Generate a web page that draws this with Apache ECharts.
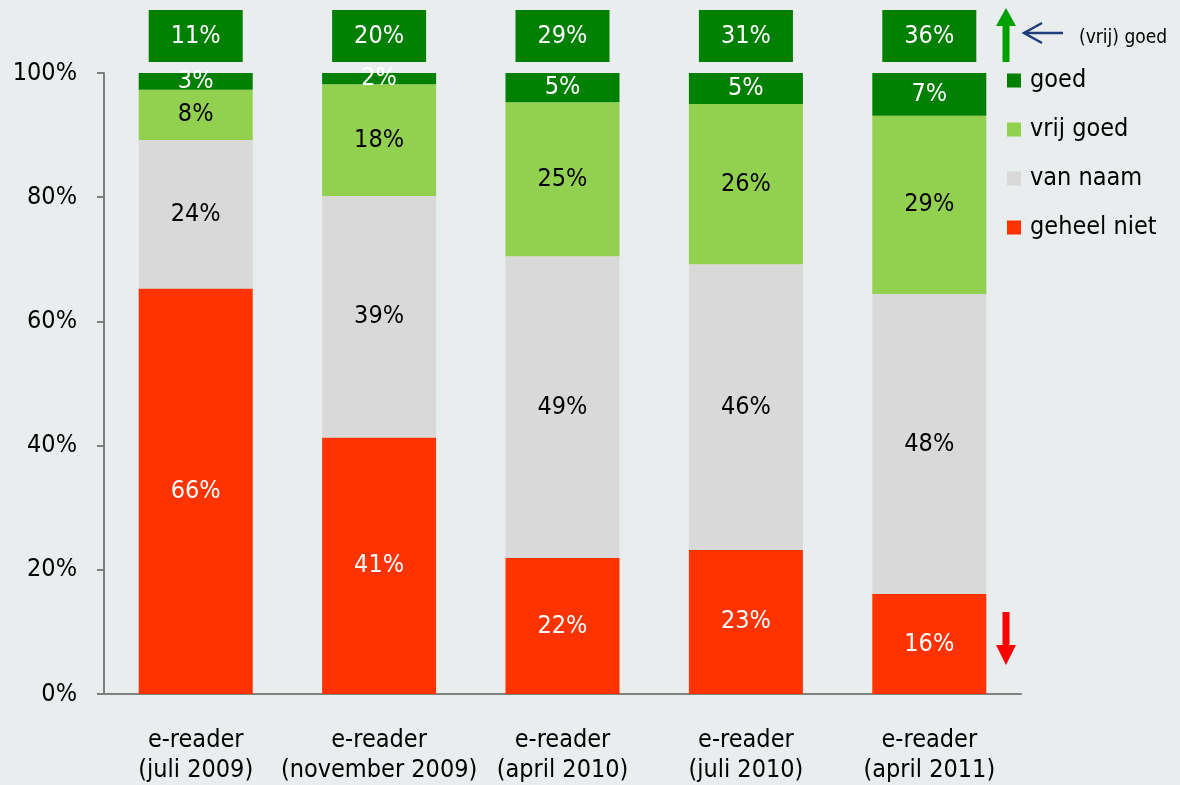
<!DOCTYPE html>
<html>
<head>
<meta charset="utf-8">
<script src="https://cdn.jsdelivr.net/npm/echarts@6/dist/echarts.min.js"></script>
<style>
html,body{margin:0;padding:0;background:#E9EDEE;}
#c{width:1180px;height:785px;}
</style>
</head>
<body>
<div id="c"></div>
<script>
const categories = ['e-reader\n(juli 2009)', 'e-reader\n(november 2009)', 'e-reader\n(april 2010)', 'e-reader\n(juli 2010)', 'e-reader\n(april 2011)'];
const seriesNames = ['goed', 'vrij goed', 'van naam', 'geheel niet'];
// measured segment sizes (percent)
const geheelNiet = [65.3, 41.3, 21.9, 23.2, 16.1];
const vanNaam = [23.9, 38.9, 48.6, 46.0, 48.3];
const vrijGoed = [8.1, 18.0, 24.8, 25.8, 28.7];
const goed = [2.7, 1.8, 4.7, 5.0, 6.9];
// printed labels
const geheelNietLabels = [66, 41, 22, 23, 16];
const vanNaamLabels = [24, 39, 49, 46, 48];
const vrijGoedLabels = [8, 18, 25, 26, 29];
const goedLabels = [3, 2, 5, 5, 7];
const totals = [11, 20, 29, 31, 36];

const FONT = '"DejaVu Sans Condensed", "Liberation Sans", sans-serif';
const FS = 25;
const colors = {goed:'#008000', vrij:'#92D050', naam:'#D9D9D9', niet:'#FF3300'};

function seg(name, data, labels, color, textColor) {
  return {
    name: name, type: 'bar', stack: 'a', barWidth: 114,
    xAxisIndex: 0, yAxisIndex: 0,
    data: data,
    itemStyle: {color: color},
    label: {show: true, position: 'inside', color: textColor, fontFamily: FONT, fontSize: FS,
      formatter: p => labels[p.dataIndex] + '%'},
    emphasis: {disabled: true}
  };
}

const chart = echarts.init(document.getElementById('c'), null, {renderer: 'canvas'});
chart.setOption({
  backgroundColor: '#E9EDEE',
  animation: false,
  textStyle: {fontFamily: FONT},
  grid: [
    {left: 104, right: 159, top: 73, bottom: 91},
    {left: 104, right: 159, top: 10, height: 52}
  ],
  xAxis: [
    {type: 'category', data: categories, gridIndex: 0,
     axisLine: {lineStyle: {color: '#808080', width: 2}},
     axisTick: {show: false},
     axisLabel: {color: '#000', fontFamily: FONT, fontSize: FS, lineHeight: 30, margin: 31, interval: 0}},
    {type: 'category', data: categories, gridIndex: 1, show: false}
  ],
  yAxis: [
    {type: 'value', min: 0, max: 100, interval: 20, gridIndex: 0,
     axisLine: {show: true, lineStyle: {color: '#808080', width: 2}},
     axisTick: {show: true, length: 7, lineStyle: {color: '#808080', width: 2}},
     splitLine: {show: false},
     axisLabel: {color: '#000', fontFamily: FONT, fontSize: FS, margin: 27, formatter: '{value}%'}},
    {type: 'value', min: 0, max: 1, gridIndex: 1, show: false}
  ],
  legend: {
    orient: 'vertical', left: 1007, top: 68, padding: 0,
    itemWidth: 14, itemHeight: 14, itemGap: 24, icon: 'rect',
    data: seriesNames,
    textStyle: {color: '#000', fontFamily: FONT, fontSize: FS, lineHeight: 24, padding: [0, 0, 0, 4]},
    selectedMode: false
  },
  series: [
    seg('geheel niet', geheelNiet, geheelNietLabels, colors.niet, '#fff'),
    seg('van naam', vanNaam, vanNaamLabels, colors.naam, '#000'),
    seg('vrij goed', vrijGoed, vrijGoedLabels, colors.vrij, '#000'),
    seg('goed', goed, goedLabels, colors.goed, '#fff'),
    {
      name: 'totaal', type: 'bar', xAxisIndex: 1, yAxisIndex: 1, barWidth: 94,
      data: totals.map(() => 1),
      itemStyle: {color: colors.goed},
      label: {show: true, position: 'inside', color: '#fff', fontFamily: FONT, fontSize: FS,
        formatter: p => totals[p.dataIndex] + '%'},
      emphasis: {disabled: true}
    }
  ],
  graphic: [
    {type: 'polygon', shape: {points: [[1002.5,62],[1002.5,26],[996,26],[1006,8],[1016,26],[1009.5,26],[1009.5,62]]},
     style: {fill: '#00A000'}},
    {type: 'polyline', shape: {points: [[1063,33],[1024,33]]}, style: {stroke: '#1F3D7A', lineWidth: 2.5, fill: null}},
    {type: 'polyline', shape: {points: [[1042,23],[1024,33],[1042,43]]}, style: {stroke: '#1F3D7A', lineWidth: 2.5, fill: null}},
    {type: 'text', left: 1079, top: 29, style: {text: '(vrij) goed', fill: '#000', font: '19px "DejaVu Sans Condensed", "Liberation Sans", sans-serif'}},
    {type: 'polygon', shape: {points: [[1002.5,612],[1002.5,645],[996,645],[1006,665],[1016,645],[1009.5,645],[1009.5,612]]},
     style: {fill: '#FF0000'}}
  ]
});
</script>
</body>
</html>
